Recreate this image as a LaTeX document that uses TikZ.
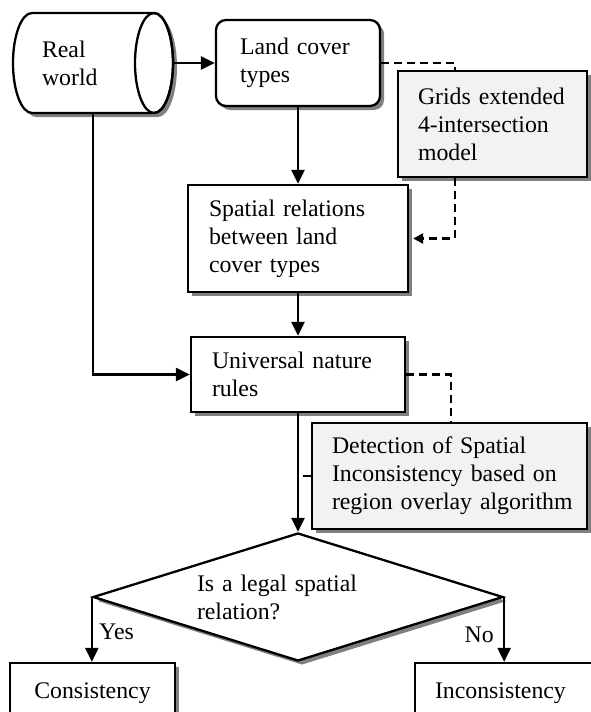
\documentclass[tikz,border=0pt]{standalone}
\usepackage{fontspec}
\setmainfont{Liberation Serif}
\usetikzlibrary{shapes.geometric,shadows,arrows.meta,calc}

\definecolor{shadecol}{gray}{0.5}
\definecolor{panel}{gray}{0.95}

\tikzset{
  castshadow/.style={drop shadow={shadow xshift=4pt, shadow yshift=-4pt, fill=shadecol, opacity=1}},
  nobreak/.style={execute at begin node={\hyphenpenalty=10000\exhyphenpenalty=10000}},
  box/.style={draw, line width=2.3pt, fill=white, castshadow, align=left, inner ysep=0pt, nobreak},
  flow/.style={line width=2.3pt, -{Triangle[length=14pt,width=13pt]}},
  dashline/.style={line width=2.3pt, dash pattern=on 8pt off 5pt},
  tag/.style={inner sep=0pt},
}

\begin{document}
\begin{tikzpicture}[x=1pt, y=1pt, font=\fontsize{23.8}{28}\selectfont]
\useasboundingbox (0,0) rectangle (590,-712);

% "Real world" store drawn as a horizontal cylinder
\fill[shadecol, shift={(4,-4)}] (32,-13) -- (154,-13)
  arc[start angle=90, end angle=-90, x radius=19pt, y radius=50pt]
  -- (32,-113)
  arc[start angle=270, end angle=90, x radius=19pt, y radius=50pt] -- cycle;
\filldraw[fill=white, line width=2.3pt] (32,-13) -- (154,-13)
  arc[start angle=90, end angle=-90, x radius=19pt, y radius=50pt]
  -- (32,-113)
  arc[start angle=270, end angle=90, x radius=19pt, y radius=50pt] -- cycle;
\draw[line width=2.3pt] (154,-63) ellipse[x radius=19pt, y radius=50pt];
\node[minimum width=160pt, minimum height=100pt, inner xsep=29pt, text width=102pt, align=left] (rw) at (93,-63) {Real\\world};

% process boxes
\node[box, rounded corners=10pt, minimum width=164pt, minimum height=86pt, inner xsep=24pt, text width=116pt] (lc) at (298,-63) {Land~cover\\types};
\node[box, fill=panel, minimum width=189pt, minimum height=106pt, inner xsep=20pt, text width=149pt] (grids) at (492.5,-124) {Grids~extended\\4-intersection\\model};
\node[box, minimum width=220pt, minimum height=107pt, inner xsep=21pt, text width=178pt] (sr) at (298,-238.5) {Spatial~relations\\between~land\\cover~types};
\node[box, minimum width=214pt, minimum height=75pt, inner xsep=21pt, text width=172pt] (un) at (298,-374.5) {Universal~nature\\rules};
\node[box, fill=panel, minimum width=275pt, minimum height=106pt, inner xsep=20pt, text width=235pt] (det) at (449.5,-476) {Detection~of~Spatial\\Inconsistency~based~on\\region~overlay~algorithm};

% decision
\node[diamond, aspect=3.2, draw, line width=2.3pt, fill=white, castshadow, minimum width=410pt, minimum height=128pt, inner sep=0pt, align=left, text width=202pt, nobreak] (dia) at (298,-597) {Is~a~legal~spatial\\relation?};

% outcomes
\node[box, minimum width=165pt, minimum height=60pt] (cons) at (92.5,-693) {Consistency};
\node[box, minimum width=185pt, minimum height=60pt, inner xsep=20pt, text width=145pt] (inc) at (507.5,-693) {Inconsistency};

% main flow
\draw[flow] (rw.east) -- (lc.west);
\draw[flow] (lc.south) -- (sr.north);
\draw[flow] (sr.south) -- (un.north);
\draw[flow] (rw.south) |- (un.west);
\draw[flow] (un.south) -- (dia.north);
\draw[flow] (dia.west) -- (dia.west |- cons.north);
\draw[flow] (dia.east) -- (dia.east |- inc.north);

% supporting methods
\draw[dashline] (lc.east) -| ([xshift=58pt]grids.north west);
\draw[dashline, -{Triangle[length=10pt,width=10pt]}, shorten >=4pt] ([xshift=58pt]grids.south west) |- (sr.east);
\draw[dashline] (un.east) -| ([xshift=140pt]det.north west);
\draw[dashline] (det.west) -- (det.west -| un.south);

% branch labels
\node[tag, anchor=west] (yes) at (99,-632) {Yes};
\node[tag, anchor=east] (no) at (494,-635) {No};
\end{tikzpicture}
\end{document}
